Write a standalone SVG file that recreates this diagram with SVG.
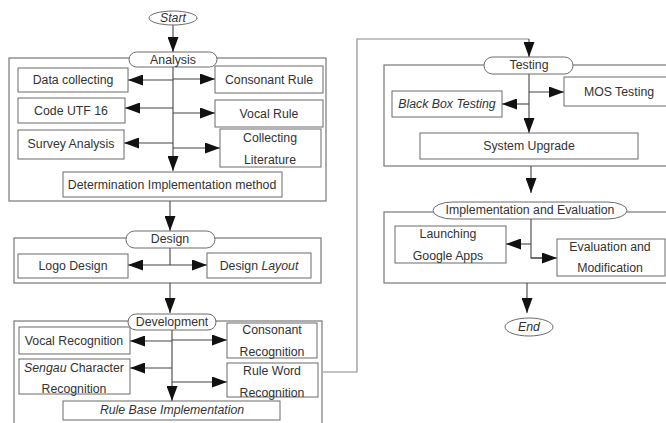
<svg xmlns="http://www.w3.org/2000/svg" width="666" height="423" viewBox="0 0 666 423">
  <defs>
    <marker id="ah" viewBox="0 0 15 11" refX="15" refY="5.5" markerWidth="15" markerHeight="11" markerUnits="userSpaceOnUse" orient="auto">
      <polygon points="0,0 15,5.5 0,11" fill="#111"/>
    </marker>
    <style>
      text { font-family: "Liberation Sans", Arial, sans-serif; font-size: 12.3px; fill: #333; text-anchor: middle; }
      .it { font-style: italic; }
      .frame { fill: none; stroke: #777; stroke-width: 1.2; }
      .box { fill: #fff; stroke: #6b6b6b; stroke-width: 1; }
      .pill { fill: #fff; stroke: #6b6b6b; stroke-width: 1; }
      .ln { fill: none; stroke: #444; stroke-width: 1.1; }
      .arr { fill: none; stroke: #444; stroke-width: 1.1; marker-end: url(#ah); }
      .loop { fill: none; stroke: #888; stroke-width: 1.1; }
    </style>
  </defs>

  <rect width="666" height="423" fill="#fff"/>

  <!-- stage frames -->
  <g id="frames">
    <rect class="frame" x="9" y="58" width="317" height="143"/>
    <rect class="frame" x="14" y="238" width="307" height="45"/>
    <rect class="frame" x="14" y="321" width="308" height="110"/>
    <rect class="frame" x="384" y="65" width="290" height="101"/>
    <rect class="frame" x="384" y="212" width="290" height="71"/>
  </g>

  <!-- connectors -->
  <g id="connectors">
    <line class="arr" x1="173" y1="25" x2="173" y2="52"/>
    <!-- analysis -->
    <line class="arr" x1="173" y1="67" x2="173" y2="171"/>
    <line class="arr" x1="173" y1="80" x2="128" y2="80"/>
    <line class="arr" x1="173" y1="79" x2="215" y2="79"/>
    <line class="arr" x1="173" y1="108" x2="125" y2="108"/>
    <line class="arr" x1="173" y1="113" x2="215" y2="113"/>
    <line class="arr" x1="173" y1="143" x2="124" y2="143"/>
    <line class="arr" x1="173" y1="148" x2="220" y2="148"/>
    <line class="arr" x1="170" y1="201" x2="170" y2="231"/>
    <!-- design -->
    <line class="ln" x1="170" y1="248" x2="170" y2="265"/>
    <line class="arr" x1="170" y1="265" x2="128" y2="265"/>
    <line class="arr" x1="170" y1="265" x2="207" y2="265"/>
    <line class="arr" x1="170" y1="283" x2="170" y2="313"/>
    <!-- development -->
    <line class="arr" x1="172" y1="330" x2="172" y2="401"/>
    <line class="arr" x1="172" y1="341" x2="130" y2="341"/>
    <line class="arr" x1="172" y1="340" x2="227" y2="340"/>
    <line class="arr" x1="172" y1="368" x2="130" y2="368"/>
    <line class="arr" x1="172" y1="382" x2="227" y2="382"/>
    <!-- development to testing -->
    <polyline class="loop" points="323,372 357,372 357,39 529,39"/>
    <line class="arr" x1="529" y1="39" x2="529" y2="57"/>
    <!-- testing -->
    <line class="arr" x1="529" y1="74" x2="529" y2="133"/>
    <line class="arr" x1="529" y1="92" x2="564" y2="92"/>
    <line class="arr" x1="529" y1="104" x2="502" y2="104"/>
    <line class="arr" x1="531" y1="166" x2="531" y2="193"/>
    <!-- implementation and evaluation -->
    <polyline class="ln" points="531,219 531,258 543,258"/>
    <line class="arr" x1="531" y1="258" x2="557" y2="258"/>
    <line class="arr" x1="531" y1="244" x2="506" y2="244"/>
    <line class="arr" x1="527" y1="283" x2="527" y2="313"/>
  </g>

  <g id="start">
    <ellipse class="pill" cx="173" cy="18" rx="24" ry="7"/>
    <text class="it" x="173" y="22">Start</text>
  </g>

  <g id="analysis">
    <rect class="pill" x="129" y="52" width="88" height="15" rx="7.5"/>
    <text x="173" y="64">Analysis</text>
  </g>
  <g id="data-collecting">
    <rect class="box" x="18" y="68" width="110" height="24"/>
    <text x="73" y="84">Data collecting</text>
  </g>
  <g id="consonant-rule">
    <rect class="box" x="215" y="66" width="108" height="27"/>
    <text x="269" y="84">Consonant Rule</text>
  </g>
  <g id="code-utf16">
    <rect class="box" x="18" y="98" width="107" height="25"/>
    <text x="71" y="115">Code UTF 16</text>
  </g>
  <g id="vocal-rule">
    <rect class="box" x="215" y="100" width="108" height="27"/>
    <text x="269" y="118">Vocal Rule</text>
  </g>
  <g id="survey-analysis">
    <rect class="box" x="18" y="130" width="106" height="29"/>
    <text x="71" y="148">Survey Analysis</text>
  </g>
  <g id="collecting-literature">
    <rect class="box" x="220" y="129" width="101" height="38"/>
    <text x="270" y="142">Collecting</text>
    <text x="270" y="164">Literature</text>
  </g>
  <g id="determination">
    <rect class="box" x="63" y="172" width="219" height="25"/>
    <text x="172" y="189">Determination Implementation method</text>
  </g>

  <g id="design">
    <rect class="pill" x="126" y="231" width="89" height="17" rx="8.5"/>
    <text x="170" y="243">Design</text>
  </g>
  <g id="logo-design">
    <rect class="box" x="18" y="254" width="110" height="24"/>
    <text x="73" y="270">Logo Design</text>
  </g>
  <g id="design-layout">
    <rect class="box" x="207" y="253" width="104" height="25"/>
    <text x="259" y="270">Design <tspan class="it">Layout</tspan></text>
  </g>

  <g id="development">
    <rect class="pill" x="128" y="314" width="88" height="16" rx="8"/>
    <text x="172" y="326">Development</text>
  </g>
  <g id="vocal-recognition">
    <rect class="box" x="19" y="327" width="111" height="27"/>
    <text x="74" y="345">Vocal Recognition</text>
  </g>
  <g id="consonant-recognition">
    <rect class="box" x="227" y="323" width="90" height="35"/>
    <text x="272" y="334">Consonant</text>
    <text x="272" y="356">Recognition</text>
  </g>
  <g id="sengau-recognition">
    <rect class="box" x="19" y="359" width="111" height="35"/>
    <text x="74" y="372"><tspan class="it">Sengau</tspan> Character</text>
    <text x="74" y="393">Recognition</text>
  </g>
  <g id="rule-word-recognition">
    <rect class="box" x="227" y="363" width="91" height="34"/>
    <text x="272" y="375">Rule Word</text>
    <text x="272" y="397">Recognition</text>
  </g>
  <g id="rule-base">
    <rect class="box" x="63" y="401" width="217" height="19"/>
    <text class="it" x="172" y="414">Rule Base Implementation</text>
  </g>

  <g id="testing">
    <rect class="pill" x="484" y="57" width="89" height="17" rx="8.5"/>
    <text x="529" y="69">Testing</text>
  </g>
  <g id="mos-testing">
    <rect class="box" x="564" y="77" width="110" height="29"/>
    <text x="619" y="96">MOS Testing</text>
  </g>
  <g id="black-box-testing">
    <rect class="box" x="392" y="91" width="110" height="26"/>
    <text class="it" x="447" y="108">Black Box Testing</text>
  </g>
  <g id="system-upgrade">
    <rect class="box" x="420" y="133" width="218" height="26"/>
    <text x="529" y="150">System Upgrade</text>
  </g>

  <g id="implementation-evaluation">
    <rect class="pill" x="433" y="202" width="194" height="17" rx="20" ry="8.5"/>
    <text x="530" y="214">Implementation and Evaluation</text>
  </g>
  <g id="launching">
    <rect class="box" x="395" y="226" width="111" height="37"/>
    <text x="448" y="238">Launching</text>
    <text x="448" y="260">Google Apps</text>
  </g>
  <g id="evaluation-modification">
    <rect class="box" x="557" y="239" width="108" height="37"/>
    <text x="610" y="251">Evaluation and</text>
    <text x="610" y="272">Modification</text>
  </g>

  <g id="end">
    <ellipse class="pill" cx="529" cy="327" rx="24" ry="9"/>
    <text class="it" x="529" y="331">End</text>
  </g>
</svg>
